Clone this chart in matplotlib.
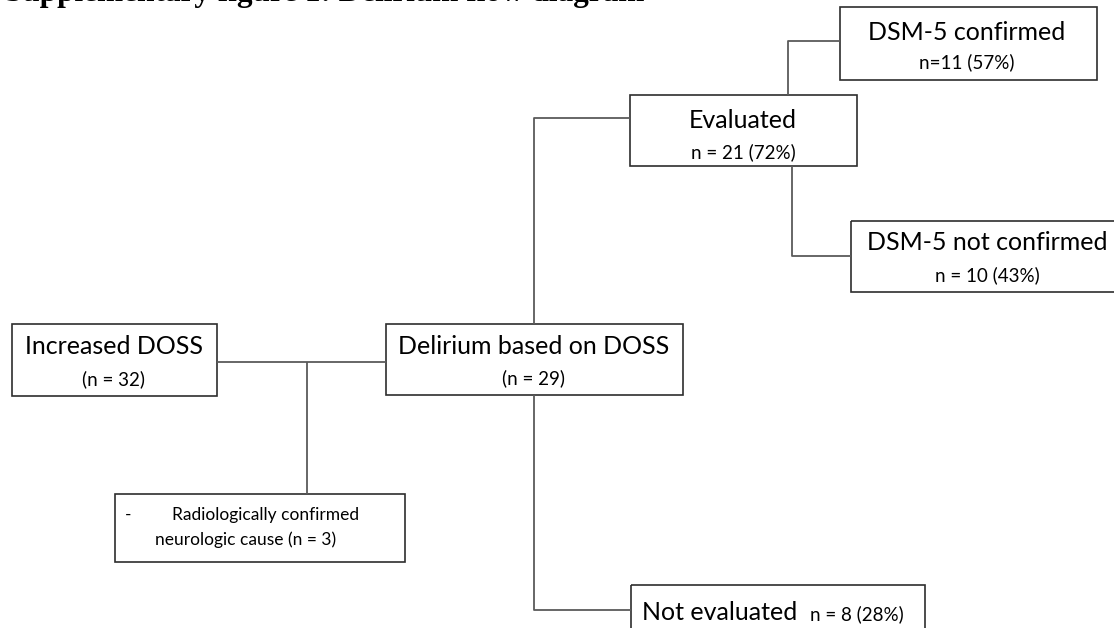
import matplotlib.pyplot as plt
from matplotlib.patches import Rectangle

# box texts
box_titles = ["Increased DOSS", "Delirium based on DOSS", "Evaluated",
              "DSM-5 confirmed", "DSM-5 not confirmed"]
box_counts = ["(n = 32)", "(n = 29)", "n = 21 (72%)", "n=11 (57%)", "n = 10 (43%)"]
excluded_lines = ["Radiologically confirmed", "neurologic cause (n = 3)"]
not_eval_title = "Not evaluated"
not_eval_count = "n = 8 (28%)"
fig_title = "Supplementary figure 1: Delirium flow diagram"

W, H = 1114, 628
fig = plt.figure(figsize=(W / 100, H / 100), dpi=100)
ax = fig.add_axes([0, 0, 1, 1])
ax.set_xlim(0, W)
ax.set_ylim(H, 0)
ax.axis("off")

font = "Lato"
big = 18
small = 13.5
boxcol = "#2e2e2e"
linecol = "#5a5a5a"

# layout (pixels): x0, y0, x1, y1, centre x, title y, count y
boxes = [
    (12, 324, 217, 396, 114, 347, 379),
    (386, 324, 683, 395, 534, 347, 378),
    (630, 95, 857, 166, 743, 120, 152),
    (840, 7, 1097, 80, 967, 32, 62),
    (851, 221, 1125, 292, 987, 243, 275),
]

def box(x0, y0, x1, y1):
    ax.add_patch(Rectangle((x0, y0), x1 - x0, y1 - y0, fill=False,
                           edgecolor=boxcol, linewidth=1.2, clip_on=True))

for (x0, y0, x1, y1, cx, ty, cy), t, c in zip(boxes, box_titles, box_counts):
    box(x0, y0, x1, y1)
    ax.text(cx, ty, t, family=font, fontsize=big, ha="center", va="center", color="black")
    ax.text(cx, cy, c, family=font, fontsize=small, ha="center", va="center", color="black")

# excluded box
box(115, 494, 405, 562)
ax.text(125, 515, "-", family=font, fontsize=12.5, ha="left", va="center")
ax.text(172, 515, excluded_lines[0], family=font, fontsize=12.5, ha="left", va="center")
ax.text(155, 540, excluded_lines[1], family=font, fontsize=12.5, ha="left", va="center")

# not evaluated box
box(631, 585, 925, 640)
ax.text(642, 612, not_eval_title, family=font, fontsize=big, ha="left", va="center")
ax.text(810, 614, not_eval_count, family=font, fontsize=small, ha="left", va="center")

# connectors
def seg(xs, ys):
    ax.plot(xs, ys, color=linecol, linewidth=1.3, solid_capstyle="butt")

seg([217, 386], [362, 362])
seg([307, 307], [362, 494])
seg([534, 534, 630], [324, 118, 118])
seg([534, 534, 631], [395, 610, 610])
seg([788, 788, 840], [95, 41, 41])
seg([792, 792, 851], [166, 256, 256])

# title, cut off at the top edge so only descenders remain
ax.text(5, 0.5, fig_title, family="Liberation Serif", fontweight="bold",
        fontsize=22.5, ha="left", va="baseline", clip_on=False)

fig.savefig("out.png", dpi=100)
